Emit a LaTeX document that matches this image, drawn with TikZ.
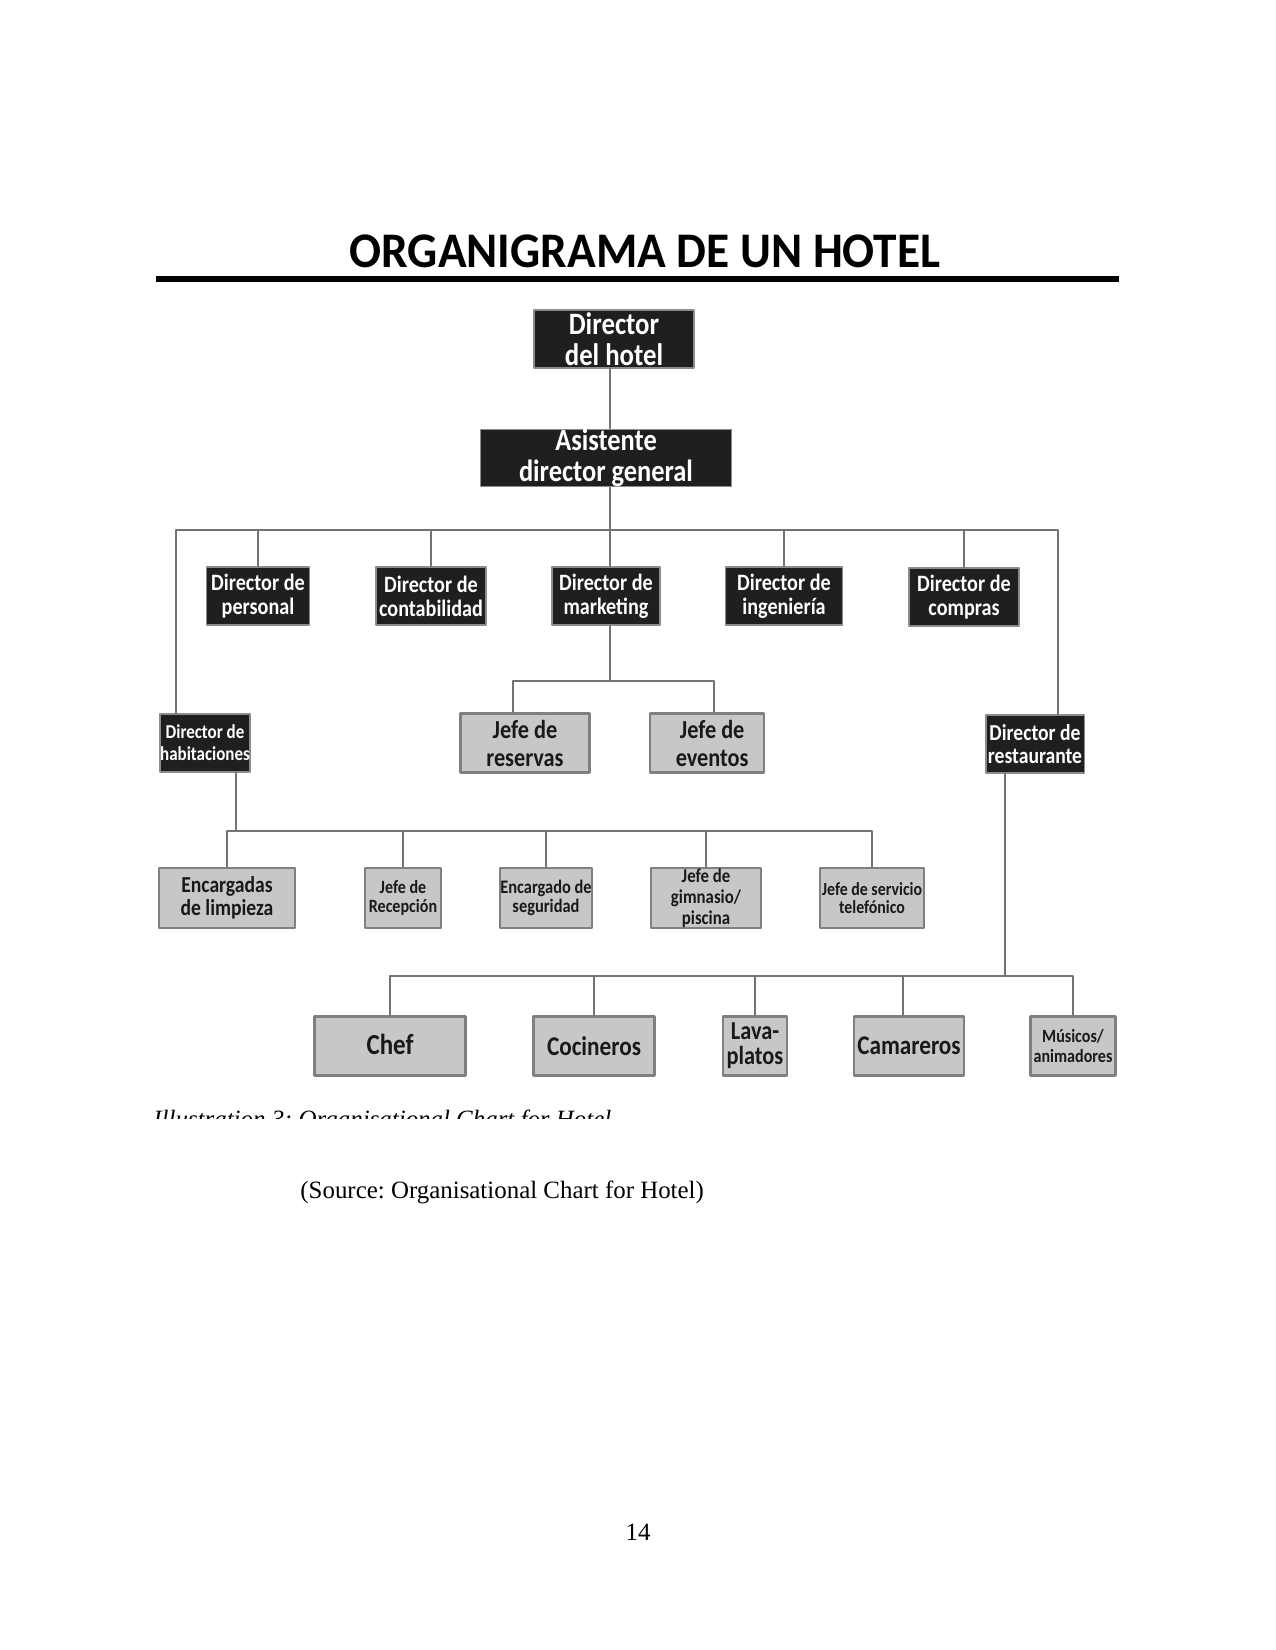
\documentclass[tikz,border=0pt]{standalone}
\usepackage{fontspec}
\setmainfont{Liberation Serif}
\newfontfamily\orgfont[FakeStretch=0.86]{Carlito}
\newfontfamily\titlefont[FakeStretch=0.95]{Carlito}
\usetikzlibrary{calc}
\frenchspacing

\begin{document}
\begin{tikzpicture}[x=0.4818pt,y=-0.4818pt,line cap=round,line join=round,
  darkbox/.style={fill=black!88,draw=black!45,line width=0.5pt,text=white,align=center,inner sep=0pt},
  greybox/.style={fill=black!22,draw=black!50,line width=1pt,text=black!90,align=center,inner sep=0pt},
  boxsize/.style 2 args={minimum width=#1*0.4818pt,minimum height=#2*0.4818pt},
  txt/.style 2 args={font=\orgfont\bfseries\fontsize{#1}{#2}\selectfont},
  link/.style={draw=black!55,line width=0.8pt}]
\useasboundingbox (0,0) rectangle (1275,1650);
\node[font=\titlefont\bfseries\fontsize{24}{28}\selectfont] (title) at (645,251) {ORGANIGRAMA DE UN HOTEL};
\draw[line width=2.6pt,line cap=butt] (156,279) -- (1119,279);
\node[darkbox,boxsize={160}{58},txt={15}{15}] (hotel) at (614,339) {Director\\del hotel};
\node[darkbox,boxsize={251}{57},txt={14.8}{15}] (asist) at (606,458) {Asistente\\director general};
\node[darkbox,boxsize={103}{58},txt={11.3}{11.5}] (personal) at (258,596) {Director de\\personal};
\node[darkbox,boxsize={110}{58},txt={11.3}{11.5}] (contab) at (431,596) {Director de\\contabilidad};
\node[darkbox,boxsize={108}{58},txt={11.3}{11.5}] (market) at (606,596) {Director de\\marketing};
\node[darkbox,boxsize={117}{58},txt={11.3}{11.5}] (ingen) at (784,596) {Director de\\ingeniería};
\node[darkbox,boxsize={110}{58},txt={11.3}{11.5}] (compras) at (964,597) {Director de\\compras};
\node[darkbox,boxsize={90}{58},txt={9.5}{10.5}] (habit) at (205,743) {Director de\\habitaciones};
\node[greybox,boxsize={129}{59},txt={12.5}{13.5}] (reserv) at (525,743) {Jefe de\\reservas};
\node[greybox,boxsize={114}{59},txt={12.5}{13.5}] (eventos) at (707,743) {\hspace*{5pt}Jefe de\\\hspace*{5pt}eventos};
\node[darkbox,boxsize={98}{58},txt={11}{11}] (restaur) at (1035,744) {Director de\\restaurante};
\node[greybox,boxsize={136}{60},txt={11}{11}] (limp) at (227,898) {Encargadas\\de limpieza};
\node[greybox,boxsize={76}{60},txt={9}{9.5}] (recep) at (403,898) {Jefe de\\Recepción};
\node[greybox,boxsize={91}{60},txt={9.2}{9.5}] (segur) at (546,898) {Encargado de\\seguridad};
\node[greybox,boxsize={110}{60},txt={9.4}{10}] (gimn) at (706,898) {Jefe de\\gimnasio/\\piscina};
\node[greybox,boxsize={104}{60},txt={8.9}{9}] (telef) at (872,898) {Jefe de servicio\\telefónico};
\node[greybox,boxsize={151}{59},txt={14}{15}] (chef) at (390,1046) {\raisebox{1.5pt}{Chef}};
\node[greybox,boxsize={121}{59},txt={13}{15}] (cocin) at (594,1046) {Cocineros};
\node[greybox,boxsize={64}{59},txt={12.5}{12}] (lava) at (755,1046) {Lava-\\platos};
\node[greybox,boxsize={110}{59},txt={13}{15}] (camar) at (909,1046) {Camareros};
\node[greybox,boxsize={85}{59},txt={9}{9.5}] (music) at (1073,1046) {Músicos/\\animadores};
\coordinate (trunk) at (610,0);
\coordinate (busA) at (610,530);
\coordinate (busM) at (610,681);
\coordinate (busH) at (236,831);
\coordinate (busR) at (1005,976);
\draw[link] (hotel.south -| trunk) -- (asist.north -| trunk);
\draw[link] (asist.south -| trunk) -- (market.north -| trunk);
\draw[link] (busA) -| ($(habit.north)+(-29,0)$);
\draw[link] (busA) -| (personal.north);
\draw[link] (busA) -| (contab.north);
\draw[link] (busA) -| (ingen.north);
\draw[link] (busA) -| (compras.north);
\draw[link] (busA) -| ($(restaur.north)+(23,0)$);
\draw[link] (market.south -| trunk) -- (busM) -| ($(reserv.north)+(-12,0)$);
\draw[link] (busM) -| ($(eventos.north)+(7,0)$);
\draw[link] ($(habit.south)+(31,0)$) -- (busH) -| (limp.north);
\draw[link] (busH) -| (recep.north);
\draw[link] (busH) -| (segur.north);
\draw[link] (busH) -| (gimn.north);
\draw[link] (busH) -| (telef.north);
\draw[link] ($(restaur.south)+(-30,0)$) -- (busR) -| (chef.north);
\draw[link] (busR) -| (cocin.north);
\draw[link] (busR) -| (lava.north);
\draw[link] (busR) -| ($(camar.north)+(-6,0)$);
\draw[link] (busR) -| (music.north);
\begin{scope}
\clip (140,1090) rectangle (720,1118);
\node[anchor=base west,font=\itshape\fontsize{12}{14}\selectfont,inner sep=0pt] (caption) at (153,1127) {Illustration 3: Organisational Chart for Hotel};
\end{scope}
\node[anchor=base west,font=\fontsize{12}{14}\selectfont,inner sep=0pt] (source) at (300,1198) {(Source: Organisational Chart for Hotel)};
\node[font=\fontsize{12}{14}\selectfont] (pagenum) at (638,1532) {14};
\end{tikzpicture}
\end{document}
